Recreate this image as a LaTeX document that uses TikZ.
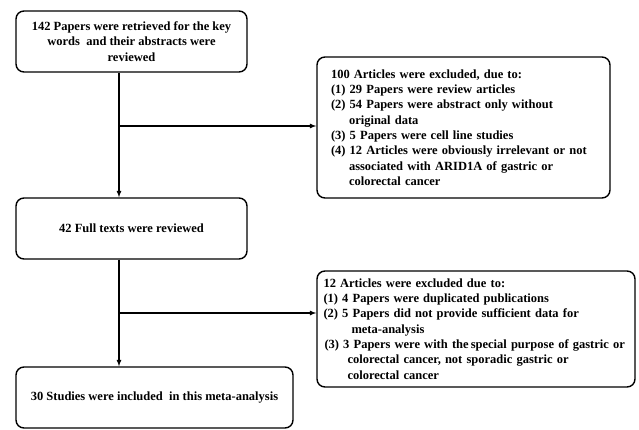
\documentclass[tikz,border=0pt]{standalone}
\usepackage{fontspec}
\setmainfont{Liberation Serif}
\usetikzlibrary{arrows}
\tikzset{box/.style={draw, rounded corners=8pt, line width=1.4pt, inner sep=0pt, font=\fontsize{12.5}{15.3}\selectfont\bfseries},
>=latex}
\newcommand\ind{\hspace*{18pt}}

\begin{document}
\begin{tikzpicture}[x=1pt, y=-1pt, line width=1.2pt]
\useasboundingbox (0,0) rectangle (639,429);
\node[box, minimum width=231pt, minimum height=61pt, align=center](s1) at (131.5,41.5){142 Papers were retrieved for the key\\words \ and their abstracts were\\reviewed};
\node[box, minimum width=293pt, minimum height=141pt, align=left, text width=265pt](x1) at (463.5,127.5){100 Articles were excluded, due to:\\(1) 29 Papers were review articles\\(2) 54 Papers were abstract only without\\\ind original data\\(3) 5 Papers were cell line studies\\(4) 12 Articles were obviously irrelevant or not\\\ind associated with ARID1A of gastric or\\\ind colorectal cancer};
\node[box, minimum width=318pt, minimum height=116pt, align=left, text width=305pt](x2) at (476,329){12 Articles were excluded due to:\\(1) 4 Papers were duplicated publications\\(2) 5 Papers did not provide sufficient data for\\\hspace*{28pt}meta-analysis\\\hspace*{1pt}(3) 3 Papers were with the\,special purpose of gastric or\\\hspace*{24pt}colorectal cancer, not sporadic gastric or\\\hspace*{24pt}colorectal cancer};
\node[box, minimum width=231pt, minimum height=61pt](s2) at (131.5,228.5){42 Full texts were reviewed};
\node[box, minimum width=277pt, minimum height=61pt](s3) at (154.5,397.5){30 Studies were included \ in this meta-analysis};
\coordinate (j1) at ([xshift=-12.5pt]s1.south |- 0,126);
\coordinate (j2) at ([xshift=-12.5pt]s2.south |- 0,313);
\draw [->](s1.south -| j1) -- (s2.north -| j1);
\draw [->](j1) -- (j1 -| x1.west);
\draw [->](s2.south -| j2) -- (s3.north -| j2);
\draw [->](j2) -- (j2 -| x2.west);
\end{tikzpicture}
\end{document}
